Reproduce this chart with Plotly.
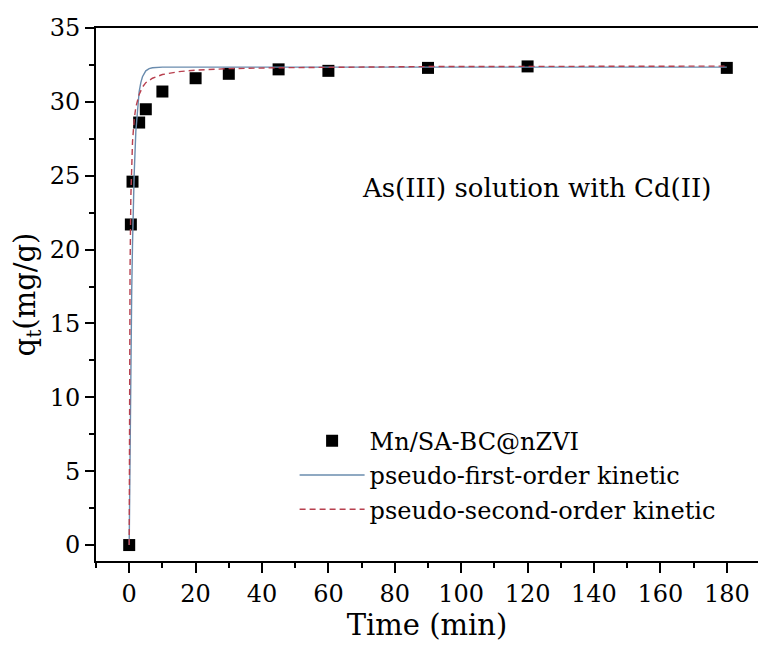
import plotly.graph_objects as go

# Experimental data
time_exp = [0, 0.5, 1, 3, 5, 10, 20, 30, 45, 60, 90, 120, 180]
qt_exp = [0.0, 21.7, 24.6, 28.6, 29.5, 30.7, 31.6, 31.9, 32.2, 32.1, 32.3, 32.4, 32.3]

# Pseudo-first-order fitted curve
time_pfo = [0, 0.1, 0.25, 0.5, 0.75, 1, 1.25, 1.5, 2, 2.5, 3, 3.5, 4, 5, 6, 7, 8, 10, 15, 30, 60, 90, 120, 180]
qt_pfo = [0.0, 3.1, 7.2, 12.7, 17.1, 20.4, 23.1, 25.1, 28.0, 29.7, 30.7, 31.3, 31.7, 32.1, 32.25, 32.31, 32.33, 32.35, 32.35, 32.35, 32.35, 32.35, 32.35, 32.35]

# Pseudo-second-order fitted curve
time_pso = [0, 0.05, 0.1, 0.25, 0.5, 0.75, 1, 1.5, 2, 3, 4, 5, 7, 10, 15, 20, 30, 45, 60, 90, 120, 180]
qt_pso = [0.0, 6.3, 11.2, 18.5, 23.6, 25.9, 27.3, 28.8, 29.65, 30.5, 31.0, 31.3, 31.6, 31.85, 32.05, 32.15, 32.25, 32.31, 32.35, 32.39, 32.4, 32.42]

x_ticks = [0, 20, 40, 60, 80, 100, 120, 140, 160, 180]
y_ticks = [0, 5, 10, 15, 20, 25, 30, 35]

FONT = "DejaVu Serif"

fig = go.Figure()
fig.add_trace(go.Scatter(
    x=time_exp, y=qt_exp, mode="markers", name="Mn/SA-BC@nZVI",
    marker=dict(symbol="square", size=12, color="black"),
))
fig.add_trace(go.Scatter(
    x=time_pfo, y=qt_pfo, mode="lines", name="pseudo-first-order kinetic",
    line=dict(color="#6a8cae", width=1.4),
))
fig.add_trace(go.Scatter(
    x=time_pso, y=qt_pso, mode="lines", name="pseudo-second-order kinetic",
    line=dict(color="#b8404f", width=1.4, dash="6px,4px"),
))

fig.add_annotation(
    x=122.8, y=24.2, xref="x", yref="y", text="As(III) solution with Cd(II)",
    showarrow=False, xanchor="center", yanchor="middle",
    font=dict(family=FONT, size=26, color="black"),
)

fig.update_layout(
    width=758, height=646,
    margin=dict(l=96, r=0, t=28, b=85),
    paper_bgcolor="white", plot_bgcolor="white",
    font=dict(family=FONT, color="black"),
    showlegend=True,
    legend=dict(
        x=0.3, y=0.161, xanchor="left", yanchor="middle",
        bgcolor="rgba(0,0,0,0)", font=dict(family=FONT, size=24, color="black"),
        itemwidth=65, tracegroupgap=0,
    ),
    xaxis=dict(
        range=[-10, 189.4], tickvals=x_ticks, ticktext=[str(v) for v in x_ticks],
        showgrid=False, zeroline=False,
        showline=True, linecolor="black", linewidth=2, mirror=True,
        ticks="outside", ticklen=10, tickwidth=2, tickcolor="black",
        minor=dict(dtick=10, tick0=0, ticks="outside", ticklen=5, tickwidth=2, tickcolor="black", showgrid=False),
        tickfont=dict(family=FONT, size=24, color="black"),
        title=dict(text="Time (min)", font=dict(family=FONT, size=29, color="black"), standoff=4),
    ),
    yaxis=dict(
        range=[-1.08, 35], tickvals=y_ticks, ticktext=[str(v) for v in y_ticks],
        showgrid=False, zeroline=False,
        showline=True, linecolor="black", linewidth=2,
        ticks="outside", ticklen=9, tickwidth=2, tickcolor="black",
        minor=dict(dtick=2.5, tick0=0, ticks="outside", ticklen=5, tickwidth=2, tickcolor="black", showgrid=False),
        tickfont=dict(family=FONT, size=24, color="black"),
        title=dict(text="q<sub>t</sub>(mg/g)", font=dict(family=FONT, size=29, color="black"), standoff=6),
    ),
)

fig.write_html("out.html")
